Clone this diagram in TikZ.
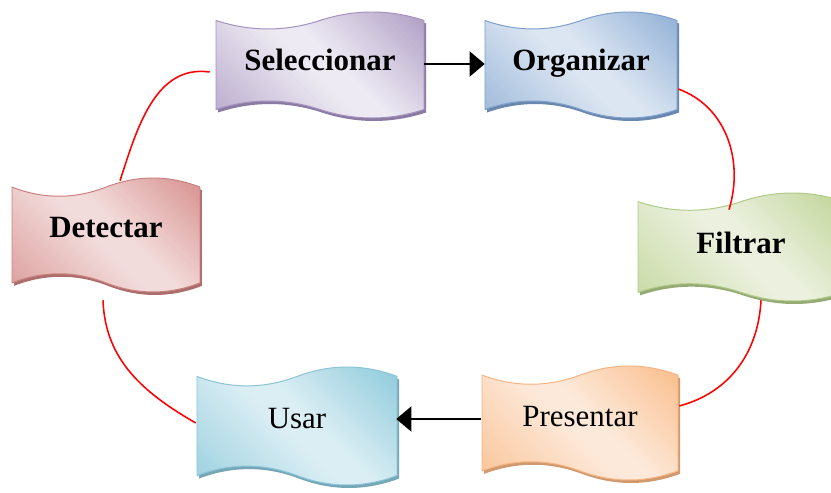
\documentclass[tikz,border=0pt]{standalone}
\usepackage{fontspec}
\setmainfont{Liberation Serif}
\usetikzlibrary{arrows.meta,calc}
\definecolor{selD}{HTML}{B3A2C7}\definecolor{selL}{HTML}{EDEAF3}\definecolor{selB}{HTML}{A391BF}
\definecolor{orgD}{HTML}{95B3D7}\definecolor{orgL}{HTML}{DCE6F2}\definecolor{orgB}{HTML}{7D9FCC}
\definecolor{detD}{HTML}{D99694}\definecolor{detL}{HTML}{F2DCDB}\definecolor{detB}{HTML}{C9817F}
\definecolor{filD}{HTML}{C3D69B}\definecolor{filL}{HTML}{EBF1DE}\definecolor{filB}{HTML}{AFC987}
\definecolor{usrD}{HTML}{93CDDD}\definecolor{usrL}{HTML}{DBEEF4}\definecolor{usrB}{HTML}{8AC4D6}
\definecolor{preD}{HTML}{FAC090}\definecolor{preL}{HTML}{FDE9D9}\definecolor{preB}{HTML}{F5B482}
\colorlet{wD}{selD}\colorlet{wL}{selL}
\newcommand\wavepath{(-0.5,0.42) .. controls (-0.3333,0.3133) and (-0.1667,0.3133) .. (0,0.42) .. controls (0.1667,0.5267) and (0.3333,0.5267) .. (0.5,0.42) -- (0.5,-0.42) .. controls (0.3333,-0.5267) and (0.1667,-0.5267) .. (0,-0.42) .. controls (-0.1667,-0.3133) and (-0.3333,-0.3133) .. (-0.5,-0.42) -- cycle}
% #1 name, #2 position, #3 width, #4 height, #5 colour prefix, #6 text, #7 lift, #8 weight
\newcommand\wavenode[8]{%
  \colorlet{wD}{#5D}\colorlet{wL}{#5L}%
  \begin{scope}[shift={#2}]
    \fill[#5B!85!black, shift={(2,-3)}, xscale=#3, yscale=#4] \wavepath;
    \begin{scope}
      \clip[xscale=#3, yscale=#4] \wavepath;
      \pgfmathsetmacro\smax{(#3+#4)/(2*sqrt(2))+2}
      \begin{scope}[rotate=45]
        \foreach \i in {0,...,59}{
          \pgfmathsetmacro\tt{(\i+0.5)/60}
          \pgfmathsetmacro\pp{int(\tt<0.46 ? 90*(0.46-\tt)/0.46 : (\tt>0.56 ? 100*(\tt-0.56)/0.40 : 0))}
          \pgfmathsetmacro\sa{-\smax+2*\smax*\i/60}
          \pgfmathsetmacro\sb{\sa+2*\smax/60+0.8}
          \fill[wD!\pp!wL] (\sa,-#3) rectangle (\sb,#3);
        }
      \end{scope}
    \end{scope}
    \draw[#5B, line width=0.7pt, xscale=#3, yscale=#4] \wavepath;
  \end{scope}
  \node[wbox, minimum width=#3*0.025cm, minimum height=#4*0.025cm, font=\fontsize{22}{26}\selectfont#8] (#1) at #2 {\raisebox{#7}[0pt][0pt]{#6}};
}
\tikzset{
  wbox/.style={inner sep=0pt, text=black},
  redline/.style={red, line width=1.1pt},
  blackarrow/.style={black, line width=1.5pt, -{Triangle[length=0.38cm,width=0.63cm]}}
}
\begin{document}
\begin{tikzpicture}[x=0.025cm, y=0.025cm]
\useasboundingbox (0,0) rectangle (831,493);
\wavenode{sel}{(320,428)}{208}{106}{sel}{Seleccionar}{-3.6pt}{\bfseries}
\wavenode{org}{(581,428)}{192}{106}{org}{Organizar}{-3.6pt}{\bfseries}
\wavenode{det}{(106,258)}{188}{114}{det}{Detectar}{-2.1pt}{\bfseries}
\wavenode{fil}{(741,246)}{206}{108}{fil}{Filtrar}{-4.3pt}{\bfseries}
\wavenode{usr}{(297,67)}{200}{118}{usr}{Usar}{-2.1pt}{}
\wavenode{pre}{(580,70)}{196}{114}{pre}{Presentar}{-2.8pt}{}
% connectors
\draw[blackarrow] ($(sel.east)+(0,1)$) -- ($(org.west)+(0,1)$);
\draw[blackarrow] ($(pre.west)+(-1,4)$) -- ($(usr.east)+(-1,7)$);
\draw[redline] ($(sel.west)+(-6,-7)$) to[out=172,in=72] ($(det.north)+(14,-3)$);
\draw[redline] ($(org.east)+(1,-24)$) to[out=-20,in=73] ($(fil.north)+(-12,-17)$);
\draw[redline] ($(fil.south)+(20,1)$) to[out=-93,in=15] ($(pre.east)+(1,17)$);
\draw[redline] ($(det.south)+(-3,-8)$) to[out=-88,in=150] ($(usr.west)+(-1,3)$);
\end{tikzpicture}
\end{document}
